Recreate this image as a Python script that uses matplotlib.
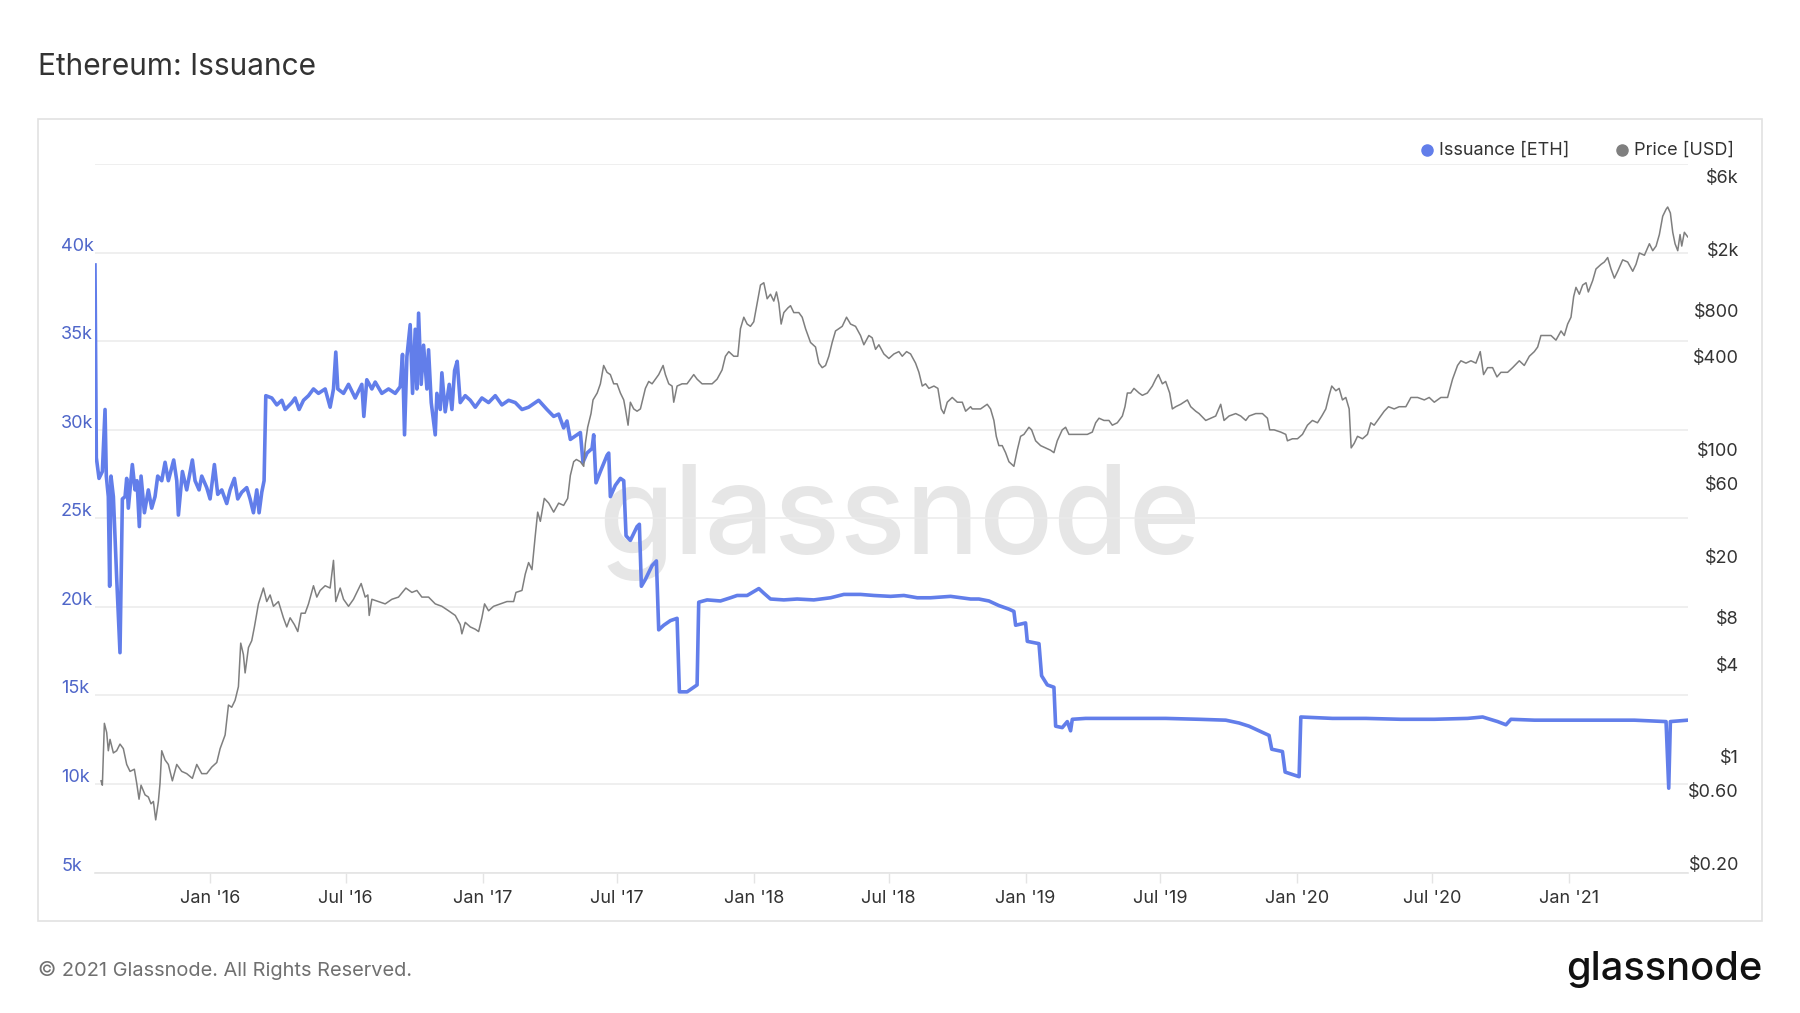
"""Ethereum: Issuance vs Price (glassnode style)"""
import numpy as np
import matplotlib
matplotlib.use('Agg')
import matplotlib.pyplot as plt
import matplotlib.dates as mdates
from matplotlib.lines import Line2D
from matplotlib.patches import Rectangle
from matplotlib.ticker import NullLocator
from matplotlib.transforms import blended_transform_factory, offset_copy

plt.rcParams['font.family'] = ['Inter', 'DejaVu Sans']

# x values are days since genesis block
GENESIS = '2015-07-30'

ISS_DAY = [0, 1.8, 5.4, 9.9, 13.5, 15.2, 17.9, 19.7, 21.5, 24.7, 29.1, 33.6, 36.8, 40.4, 42.6, 44.8,
           50.2, 53.8, 56.5, 59.6, 61.9, 66.4, 71.7, 76.2, 80.7, 84.3, 89.7, 94.2, 98.6, 105.8, 109.9,
           112.1, 117.5, 123.3, 130.9, 134.5, 139.9, 143.5, 150.2, 154.7, 160.5, 165.0, 170.4, 177.1,
           181.6, 187.4, 191.9, 197.3, 204.0, 208.5, 213.0, 217.5, 220.6, 224.2, 227.3, 229.6, 237.7,
           244.4, 251.1, 255.6, 264.6, 269.0, 274.4, 280.3, 287.0, 293.7, 300.4, 309.4, 316.1, 320.6,
           323.7, 326.4, 334.1, 340.8, 349.8, 358.7, 361.4, 365.4, 372.2, 376.7, 385.6, 394.6, 403.6,
           410.3, 413.4, 416.1, 419.3, 423.7, 426.9, 430.5, 432.7, 435.0, 438.5, 441.7, 446.2, 448.4,
           452.0, 457.4, 459.6, 464.1, 466.3, 470.8, 476.2, 479.8, 483.4, 486.9, 491.0, 497.7, 504.5,
           511.2, 520.1, 529.1, 538.1, 547.0, 556.0, 565.0, 574.0, 582.9,
           596.4, 607.6, 616.6, 623.3, 630.0, 634.5, 639.0, 648.0, 652.5, 656.0, 661.4, 668.2, 670.4,
           673.5, 679.4, 688.3, 690.6, 692.8, 699.5, 706.3, 710.8, 713.9, 719.7, 728.7, 731.8, 734.5,
           739.9, 748.9, 754.7, 757.8, 764.6, 773.5, 782.5, 785.6, 796.0, 804.9, 809.4, 811.6, 822.9,
           840.8, 854.2, 863.2, 876.7, 892.4, 899.1, 908.1, 926.0, 943.9, 966.3, 988.8, 1006.7,
           1029.1, 1047.1, 1069.5, 1087.4, 1105.4, 1123.3, 1150.2, 1177.1,
           1188.2, 1201.7, 1215.1, 1228.6, 1235.3, 1237.6, 1251.0, 1253.3, 1269.0, 1272.5, 1280.2,
           1289.1, 1291.4, 1300.3, 1307.1, 1311.5, 1313.8, 1331.7, 1358.6, 1394.5, 1439.3, 1484.2,
           1520.1, 1538.0, 1551.4, 1564.9, 1578.3, 1581.9, 1596.3, 1599.9, 1618.7, 1621.0, 1663.5,
           1708.4, 1755.5, 1800.4, 1845.2, 1865.4, 1885.6, 1896.8, 1903.5, 1934.9, 1979.7, 2024.6,
           2069.4, 2112.0, 2115.6, 2117.8, 2141.1]
ISS_ETH = [39300, 28420, 27250, 27640, 31140, 27380, 26220, 21160, 27380, 26220, 21680, 17410, 26090,
           26220, 27250, 25570, 28030, 26600, 27120, 24530, 27380, 25310, 26600, 25570, 26220, 27380,
           27120, 28160, 27120, 28290, 27120, 25180, 27640, 26600, 28290, 27120, 26600, 27380, 26730,
           26090, 28030, 26350, 26600, 25830, 26600, 27250, 26090, 26470, 26730, 26090, 25310, 26600,
           25310, 26470, 27120, 31920, 31790, 31400, 31660, 31140, 31530, 31790, 31140, 31660, 31920,
           32300, 32050, 32300, 31270, 32300, 34380, 32300, 32050, 32560, 31790, 32560, 30750, 32820,
           32300, 32690, 32050, 32300, 32050, 32430, 34250, 29710, 34120, 35930, 32050, 35670, 32300,
           36580, 32560, 34770, 32300, 34510, 31530, 29710, 32050, 31140, 33210, 31010, 32560, 31140,
           33340, 33860, 31530, 31920, 31660, 31270, 31790, 31530, 31920, 31400, 31660, 31530, 31140,
           31270,
           31660, 31140, 30750, 30880, 30100, 30490, 29450, 29710, 29840, 28160, 28680, 28940, 29710,
           27000, 27640, 28550, 28680, 26220, 26860, 27250, 27120, 24010, 23750, 24530, 24660, 21160,
           21550, 22330, 22590, 18700, 18960, 19220, 19350, 15200, 15200, 15460, 15590, 20260, 20390,
           20330, 20510, 20640, 20640, 21030, 20770, 20440, 20390, 20440, 20390, 20510, 20700,
           20700, 20640, 20590, 20640, 20510, 20510, 20590, 20440,
           20440, 20330, 20070, 19870, 19740, 18960, 19090, 18050, 17920, 16110, 15590,
           15460, 13260, 13180, 13520, 13000, 13650, 13700, 13700, 13700, 13700, 13650,
           13600, 13440, 13260, 13000, 12740, 11960, 11830, 10670, 10410, 13780, 13700,
           13700, 13650, 13650, 13700, 13780, 13520, 13340, 13650, 13600, 13600, 13600,
           13600, 13520, 9760, 13520, 13600]

PRICE_DAY = [8.1, 9.9, 12.6, 15.7, 17.9, 20.2, 24.7, 29.1, 33.6, 38.1, 42.6, 47.1, 52.9, 56.1, 59.2,
             61.9, 67.3, 71.7, 75.3, 78.5, 81.6, 85.2, 87.4, 89.7, 94.2, 98.6, 104.0, 109.9, 116.6,
             123.3, 130.9, 136.8, 143.5, 150.2, 156.9, 163.7, 168.2, 174.9, 179.4, 183.8, 188.3,
             192.8, 195.9, 199.5, 201.8, 206.3, 210.7, 214.3, 219.7, 226.4, 230.9, 235.4, 239.9,
             246.6, 253.3, 257.8, 262.3, 268.1, 272.6, 277.1, 282.5, 287.0, 293.7, 298.2, 302.7,
             309.4, 316.1, 320.6, 323.7, 329.6, 334.1, 340.8, 347.5, 352.0, 357.8, 363.2, 366.8,
             368.6, 372.2, 381.1, 390.1, 399.1, 408.0, 417.9, 426.0, 432.7, 439.4, 448.4, 457.4,
             466.3, 475.3, 484.3, 491.0, 493.2, 497.7, 504.5, 511.2, 515.7, 520.1, 523.7, 529.1,
             535.8, 544.8, 553.8, 562.8, 565.9, 574.0, 578.4, 582.9,
             587.4, 591.9, 595.1, 598.7, 604.0, 609.9, 616.6, 623.3, 630.0, 635.4, 639.0, 643.5,
             647.1, 652.5, 657.0, 659.2, 662.3, 666.8, 669.5, 675.1, 679.4, 683.8, 688.3, 692.8,
             697.3, 701.8, 706.3, 710.8, 713.0, 716.6, 719.7, 724.2, 728.7, 733.2, 739.9, 744.4,
             748.9, 753.4, 757.8, 763.7, 766.8, 771.3, 775.8, 778.0, 782.5, 789.2, 795.9, 804.9,
             809.4, 816.1, 822.9, 829.6, 836.3, 843.0, 847.5, 852.0, 858.7, 864.1, 867.7, 872.2,
             876.7, 881.1, 885.6, 890.1, 894.6, 899.1, 903.6, 908.1, 912.5, 916.1, 919.3, 922.4,
             926.0, 931.4, 935.0, 939.4, 946.2, 950.7, 955.2, 961.9, 968.6, 973.1, 977.6, 982.1,
             986.5, 991.0, 995.5, 1000.0, 1004.5, 1010.3, 1015.7, 1022.4, 1029.1, 1033.6, 1040.3,
             1044.8, 1049.3, 1053.8, 1060.5, 1067.2, 1074.0, 1080.7, 1085.2, 1091.0, 1096.4,
             1103.1, 1107.6, 1112.1, 1116.5, 1121.0, 1127.8, 1133.1, 1137.6, 1141.2, 1145.7,
             1152.4, 1159.2, 1165.9, 1170.4, 1177.1,
             1179.3, 1190.5, 1199.4, 1203.9, 1208.4, 1211.6, 1215.1, 1219.6, 1224.1, 1228.6,
             1235.3, 1239.8, 1244.3, 1248.8, 1255.5, 1259.1, 1264.5, 1271.2, 1277.9, 1284.6,
             1289.1, 1293.6, 1300.3, 1304.8, 1309.3, 1316.0, 1325.0, 1334.0, 1340.7, 1345.2,
             1349.7, 1356.4, 1363.1, 1367.6, 1374.3, 1381.1, 1384.6, 1387.8, 1392.3, 1396.7,
             1403.5, 1408.0, 1414.7, 1421.4, 1425.9, 1429.5, 1434.9, 1439.3, 1444.7, 1448.3,
             1452.8, 1459.5, 1468.5, 1473.0, 1479.7, 1484.2, 1493.2, 1499.9, 1506.6, 1513.3,
             1517.8, 1524.5, 1533.5, 1540.2, 1547.0, 1551.4, 1560.4, 1569.4, 1576.1, 1579.2,
             1585.1, 1594.0, 1600.8, 1603.0, 1609.7, 1616.5, 1623.2, 1629.9, 1636.6, 1643.4,
             1649.2, 1654.6, 1659.1, 1662.6, 1668.1, 1672.5, 1677.0, 1681.5, 1686.0, 1688.7,
             1692.7, 1697.2, 1703.9, 1710.6, 1715.1, 1719.6, 1726.3, 1733.1, 1738.9, 1746.5,
             1753.2, 1762.2,
             1769.0, 1778.0, 1787.0, 1793.6, 1800.4, 1809.3, 1818.3, 1825.0, 1831.7, 1836.2,
             1843.0, 1849.7, 1856.4, 1862.2, 1866.7, 1872.1, 1878.8, 1884.7, 1890.0, 1899.0,
             1905.7, 1914.7, 1921.4, 1928.2, 1934.9, 1939.4, 1943.8, 1950.6, 1957.3, 1964.0,
             1970.8, 1975.2, 1979.7, 1984.2, 1987.8, 1990.9, 1995.4, 1999.9, 2004.4, 2007.5,
             2013.4, 2017.8, 2024.6, 2029.0, 2033.5, 2038.0, 2042.5, 2047.0, 2053.7, 2060.4,
             2067.2, 2071.6, 2076.1, 2082.9, 2089.6, 2094.1, 2098.6, 2103.0, 2107.5, 2112.0,
             2114.2, 2117.8, 2121.0, 2124.1, 2127.7, 2130.8, 2133.1, 2136.6, 2141.1]
PRICE_USD = [0.79, 0.74, 1.87, 1.63, 1.24, 1.47, 1.20, 1.24, 1.37, 1.28, 1.01, 0.91, 0.94, 0.76, 0.60,
             0.74, 0.64, 0.62, 0.56, 0.58, 0.44, 0.58, 0.76, 1.24, 1.08, 1.01, 0.79, 1.01, 0.91,
             0.88, 0.82, 1.01, 0.88, 0.88, 0.97, 1.04, 1.28, 1.57, 2.46, 2.38, 2.64,
             3.24, 6.22, 5.24, 3.98, 5.82, 6.45, 7.93, 11.2, 14.2, 11.6, 12.8, 10.8,
             11.6, 9.09, 7.93, 9.09, 8.20, 7.40, 9.74, 9.74, 11.2, 14.7, 12.4, 13.7,
             14.7, 14.2, 21.5, 11.6, 14.2, 12.0, 10.8, 12.0, 13.3, 15.2, 12.4, 12.8,
             9.42, 12.0, 11.6, 11.2, 12.0, 12.4, 14.2, 13.3, 13.7, 12.4, 12.4, 11.2,
             10.8, 10.1, 9.42, 8.20, 7.15, 8.49, 7.93, 7.66, 7.40, 9.09, 11.2, 10.1,
             10.8, 11.2, 11.6, 11.6, 13.3, 13.7, 17.5, 20.8,
             18.7, 31.3, 44.3, 38.6, 54.4, 50.7, 44.3, 50.7, 49.0, 54.4, 76.7, 94.3,
             97.5, 94.3, 88.0, 124, 158, 194, 238, 264, 303, 399, 360, 348,
             303, 303, 264, 238, 208, 163, 230, 208, 201, 208, 283, 314,
             303, 325, 348, 399, 348, 303, 293, 230, 293, 303, 303, 348,
             325, 303, 303, 303, 325, 373, 458, 491, 458, 458, 692, 822,
             742, 717, 768, 1012, 1331, 1378, 1084, 1160, 1047, 1200, 1012, 742,
             881, 944, 977, 881, 881, 822, 692, 563, 526, 413, 386, 399,
             458, 563, 669, 692, 717, 822, 742, 717, 625, 544, 625,
             604, 508, 544, 474, 443, 474, 491, 458, 491, 474,
             413, 360, 293, 303, 283, 293, 283, 208, 194, 230,
             247, 230, 230, 201, 215,
             208, 208, 223, 208, 175, 138, 120, 120, 108, 94.3,
             88.0, 112, 138, 142, 158, 152, 129, 120, 116, 112,
             108, 129, 152, 158, 142, 142, 142, 142, 147, 169,
             181, 175, 175, 163, 169, 187, 215, 264, 264, 283,
             264, 255, 264, 293, 325, 348, 303, 314, 264, 208,
             215, 223, 238, 215, 201, 194, 175, 181, 187, 223,
             175, 187, 194, 187, 175, 187, 194, 194, 181, 152,
             152, 147, 142, 129, 133, 133, 142, 163, 175, 169,
             187, 208, 255, 293, 273, 283, 238, 247, 208, 116,
             124, 138, 133, 142, 169, 163, 181, 201, 215, 208,
             215, 215,
             247, 247, 238, 247, 230, 247, 247, 325, 399, 428,
             413, 428, 413, 491, 348, 386, 386, 336, 360, 360,
             386, 428, 399, 458, 491, 526, 625, 625, 625, 583,
             669, 625, 742, 822, 1120, 1286, 1160, 1331, 1378, 1200,
             1425, 1694, 1815, 1880, 2010, 1694, 1476, 1637, 1942, 1880,
             1637, 1815, 2153, 2080, 2472, 2228, 2388, 2837, 3734, 4141,
             4287, 3920, 2935, 2472, 2228, 2837, 2388, 2935, 2740]

ISS_TICKS = [5000, 10000, 15000, 20000, 25000, 30000, 35000, 40000]
ISS_TICK_LABELS = ['5k', '10k', '15k', '20k', '25k', '30k', '35k', '40k']
PRICE_TICKS = [0.2, 0.6, 1, 4, 8, 20, 60, 100, 400, 800, 2000, 6000]
PRICE_TICK_LABELS = ['$0.20', '$0.60', '$1', '$4', '$8', '$20', '$60', '$100',
                     '$400', '$800', '$2k', '$6k']
X_TICKS = ['2016-01-01', '2016-07-01', '2017-01-01', '2017-07-01', '2018-01-01', '2018-07-01',
           '2019-01-01', '2019-07-01', '2020-01-01', '2020-07-01', '2021-01-01']
X_TICK_LABELS = ["Jan '16", "Jul '16", "Jan '17", "Jul '17", "Jan '18", "Jul '18",
                 "Jan '19", "Jul '19", "Jan '20", "Jul '20", "Jan '21"]

BLUE = '#627eea'
GRAY = '#7f7f7f'
GRID = '#ebebeb'

W, H = 1800, 1013
fig = plt.figure(figsize=(W / 100, H / 100), dpi=100)


def fx(px):
    return px / W


def fy(py):
    return 1 - py / H


# outer frame
fig.add_artist(Rectangle((fx(38), fy(921)), fx(1762) - fx(38), fy(119) - fy(921),
                         transform=fig.transFigure, fill=False, edgecolor='#e2e2e2', lw=1.2))

ax = fig.add_axes([fx(95), fy(872.5), fx(1688) - fx(95), fy(164) - fy(872.5)])
ax2 = ax.twinx()

t0 = mdates.datestr2num(GENESIS)
x_iss = t0 + np.array(ISS_DAY)
x_price = t0 + np.array(PRICE_DAY)

ax.plot(x_iss, ISS_ETH, color=BLUE, lw=2.6, solid_joinstyle='round', zorder=3)
ax2.plot(x_price, PRICE_USD, color=GRAY, lw=1.1, zorder=3)

ax.set_xlim(t0, t0 + 2141.5)
ax.set_ylim(5000, 45000)
ax.set_yticks(range(5000, 45001, 5000))
ax.yaxis.grid(True, color=GRID, lw=1.1)
ax.set_axisbelow(True)
ax.tick_params(axis='y', length=0, labelleft=False)

ax.set_xticks([mdates.datestr2num(d) for d in X_TICKS])
ax.set_xticklabels(X_TICK_LABELS)
ax.tick_params(axis='x', length=7, width=1, color='#e4e4e4', labelcolor='#333333',
               labelsize=13, pad=5.5)
for side in ['top', 'left', 'right']:
    ax.spines[side].set_visible(False)
ax.spines['bottom'].set_color('#e4e4e4')
ax.spines['bottom'].set_linewidth(1.2)

ax2.set_yscale('log')
ax2.set_ylim(0.2, 8167)
ax2.yaxis.set_major_locator(NullLocator())
ax2.yaxis.set_minor_locator(NullLocator())
for side in ax2.spines:
    ax2.spines[side].set_visible(False)

# axis labels sit slightly above their value
tr_left = offset_copy(blended_transform_factory(ax.transAxes, ax.transData), fig=fig, y=6.5, units='dots')
for v, lab in zip(ISS_TICKS, ISS_TICK_LABELS):
    ax.text(-0.0213, v, lab, transform=tr_left, ha='left', va='center',
            fontsize=13, color='#4f66c9')

tr_right = offset_copy(blended_transform_factory(ax2.transAxes, ax2.transData), fig=fig, y=6.5, units='dots')
for v, lab in zip(PRICE_TICKS, PRICE_TICK_LABELS):
    ax2.text(1.032, v, lab, transform=tr_right, ha='right', va='center',
             fontsize=13, color='#333333')

# watermark
ax.text(0.505, 0.4495, 'glassnode', transform=ax.transAxes, ha='center', va='baseline',
        fontsize=88, color='#e6e6e6', weight='medium', zorder=0.5)

# title
fig.text(fx(38), fy(67), 'Ethereum: Issuance', fontsize=21.5, color='#333333', ha='left', va='center')

# legend
fig.add_artist(Line2D([fx(1427)], [fy(150.5)], marker='o', markersize=8, color=BLUE,
                      transform=fig.transFigure))
fig.text(fx(1439), fy(150.5), 'Issuance [ETH]', fontsize=13, color='#333333', ha='left', va='center')
fig.add_artist(Line2D([fx(1622)], [fy(150.5)], marker='o', markersize=8, color=GRAY,
                      transform=fig.transFigure))
fig.text(fx(1634), fy(150.5), 'Price [USD]', fontsize=13, color='#333333', ha='left', va='center')

# footer
fig.text(fx(38), fy(970.5), '\u00a9 2021 Glassnode. All Rights Reserved.', fontsize=14.4,
         color='#707070', ha='left', va='center')
fig.text(fx(1762), fy(969.5), 'glassnode', fontsize=28.7, weight='medium', color='#111111',
         ha='right', va='center')

fig.savefig('out.png', dpi=100)
